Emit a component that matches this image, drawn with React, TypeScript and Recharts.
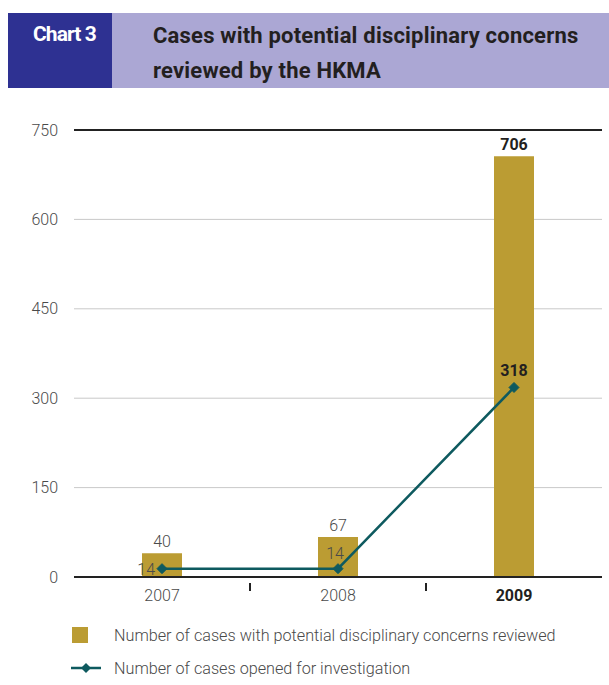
import React from "react";
import {
  ComposedChart,
  Bar,
  Line,
  XAxis,
  YAxis,
  CartesianGrid,
  ReferenceLine,
} from "recharts";

const years = ["2007", "2008", "2009"];
const reviewed = [40, 67, 706];
const opened = [14, 14, 318];
const yTicks = [0, 150, 300, 450, 600, 750];
const reviewedName = "Number of cases with potential disciplinary concerns reviewed";
const openedName = "Number of cases opened for investigation";

const data = years.map((y, i) => ({ year: y, reviewed: reviewed[i], opened: opened[i] }));

const GOLD = "#BB9C33";
const TEAL = "#0E5A5F";
const FONT = "Roboto, 'Noto Sans', sans-serif";
const TEXT = "#4a4a4a";

const XTick = (props: any) => {
  const { x, y, payload, index } = props;
  const last = index === years.length - 1;
  const off = payload && typeof payload.offset === "number" ? payload.offset : 88;
  return (
    <g>
      {index > 0 && (
        <line x1={x - off} x2={x - off} y1={y - 2} y2={y + 6} stroke="#222" strokeWidth={2} />
      )}
      <text
        x={x}
        y={y + 16}
        textAnchor="middle"
        fontFamily={FONT}
        fontSize={16}
        fontWeight={last ? 700 : 300}
        fill={last ? "#231F20" : TEXT}
      >
        {payload.value}
      </text>
    </g>
  );
};

const BarLabel = (props: any) => {
  const { x, y, width, value, index } = props;
  const last = index === years.length - 1;
  return (
    <text
      x={x + width / 2}
      y={y - 6}
      textAnchor="middle"
      fontFamily={FONT}
      fontSize={16}
      fontWeight={last ? 700 : 300}
      fill={last ? "#231F20" : TEXT}
    >
      {value}
    </text>
  );
};

const LineLabel = (props: any) => {
  const { x, y, value, index } = props;
  if (index === 0) {
    return (
      <text x={x - 7} y={y + 6} textAnchor="end" fontFamily={FONT} fontSize={16} fontWeight={300} fill={TEXT}>
        {value}
      </text>
    );
  }
  if (index === 1) {
    return (
      <text x={x - 3} y={y - 10} textAnchor="middle" fontFamily={FONT} fontSize={16} fontWeight={300} fill={TEXT}>
        {value}
      </text>
    );
  }
  return (
    <text x={x} y={y - 11} textAnchor="middle" fontFamily={FONT} fontSize={16} fontWeight={700} fill="#231F20">
      {value}
    </text>
  );
};

const Diamond = (props: any) => {
  const { cx, cy } = props;
  if (cx == null || cy == null) return null;
  const r = 5;
  return (
    <path
      d={`M${cx},${cy - r} L${cx + r},${cy} L${cx},${cy + r} L${cx - r},${cy} Z`}
      fill={TEAL}
      stroke={TEAL}
    />
  );
};

const LegendBlock = () => (
  <div
    style={{
      position: "absolute",
      left: 49,
      top: 624,
      width: 560,
      fontFamily: FONT,
      fontSize: 16.2,
      fontWeight: 300,
      color: TEXT,
    }}
  >
    <div style={{ display: "flex", alignItems: "center", height: 22 }}>
      <div style={{ width: 16, height: 16, background: GOLD, marginLeft: 23, marginRight: 26 }} />
      <span>{reviewedName}</span>
    </div>
    <div style={{ display: "flex", alignItems: "center", height: 22, marginTop: 11 }}>
      <svg width={30} height={12} style={{ marginLeft: 22, marginRight: 13 }}>
        <line x1={0} x2={30} y1={6} y2={6} stroke={TEAL} strokeWidth={2.5} />
        <path d="M15,1 L20,6 L15,11 L10,6 Z" fill={TEAL} />
      </svg>
      <span>{openedName}</span>
    </div>
  </div>
);

export default function App() {
  return (
    <div style={{ position: "absolute", left: 0, top: 0, width: 609, height: 685, background: "#fff" }}>
      <div
        style={{
          position: "absolute",
          left: 8,
          top: 13,
          width: 104,
          height: 75,
          background: "#2E3192",
        }}
      >
        <div
          style={{
            position: "absolute",
            left: 25,
            top: 8,
            lineHeight: "26px",
            fontFamily: FONT,
            fontWeight: 700,
            fontSize: 21,
            color: "#fff",
            letterSpacing: -0.9,
          }}
        >
          Chart 3
        </div>
      </div>
      <div
        style={{
          position: "absolute",
          left: 112,
          top: 13,
          width: 497,
          height: 75,
          background: "#ABA7D4",
        }}
      >
        <div
          style={{
            position: "absolute",
            left: 41,
            top: 5,
            lineHeight: "35px",
            fontFamily: FONT,
            fontWeight: 700,
            fontSize: 22,
            color: "#231F20",
            letterSpacing: 0.2,
          }}
        >
          Cases with potential disciplinary concerns
          <br />
          reviewed by the HKMA
        </div>
      </div>
      <div style={{ position: "absolute", left: 0, top: 0 }}>
        <ComposedChart
          width={609}
          height={685}
          data={data}
          margin={{ top: 130, right: 7, bottom: 78, left: 0 }}
        >
          <CartesianGrid horizontal vertical={false} stroke="#c9c9c9" strokeWidth={1} />
          <XAxis
            dataKey="year"
            axisLine={{ stroke: "#222", strokeWidth: 2 }}
            tickLine={false}
            tick={<XTick />}
            height={30}
            interval={0}
          />
          <YAxis
            domain={[0, 750]}
            ticks={yTicks}
            width={74}
            axisLine={false}
            tickLine={false}
            tickMargin={10}
            tick={{ fontFamily: FONT, fontSize: 16, fontWeight: 300, fill: TEXT }}
            interval={0}
          />
          <ReferenceLine y={750} stroke="#222" strokeWidth={2} />
          <Bar
            dataKey="reviewed"
            name={reviewedName}
            fill={GOLD}
            barSize={40}
            isAnimationActive={false}
            label={<BarLabel />}
          />
          <Line
            dataKey="opened"
            name={openedName}
            stroke={TEAL}
            strokeWidth={2.5}
            dot={<Diamond />}
            activeDot={false}
            isAnimationActive={false}
            label={<LineLabel />}
          />
        </ComposedChart>
      </div>
      <LegendBlock />
    </div>
  );
}
